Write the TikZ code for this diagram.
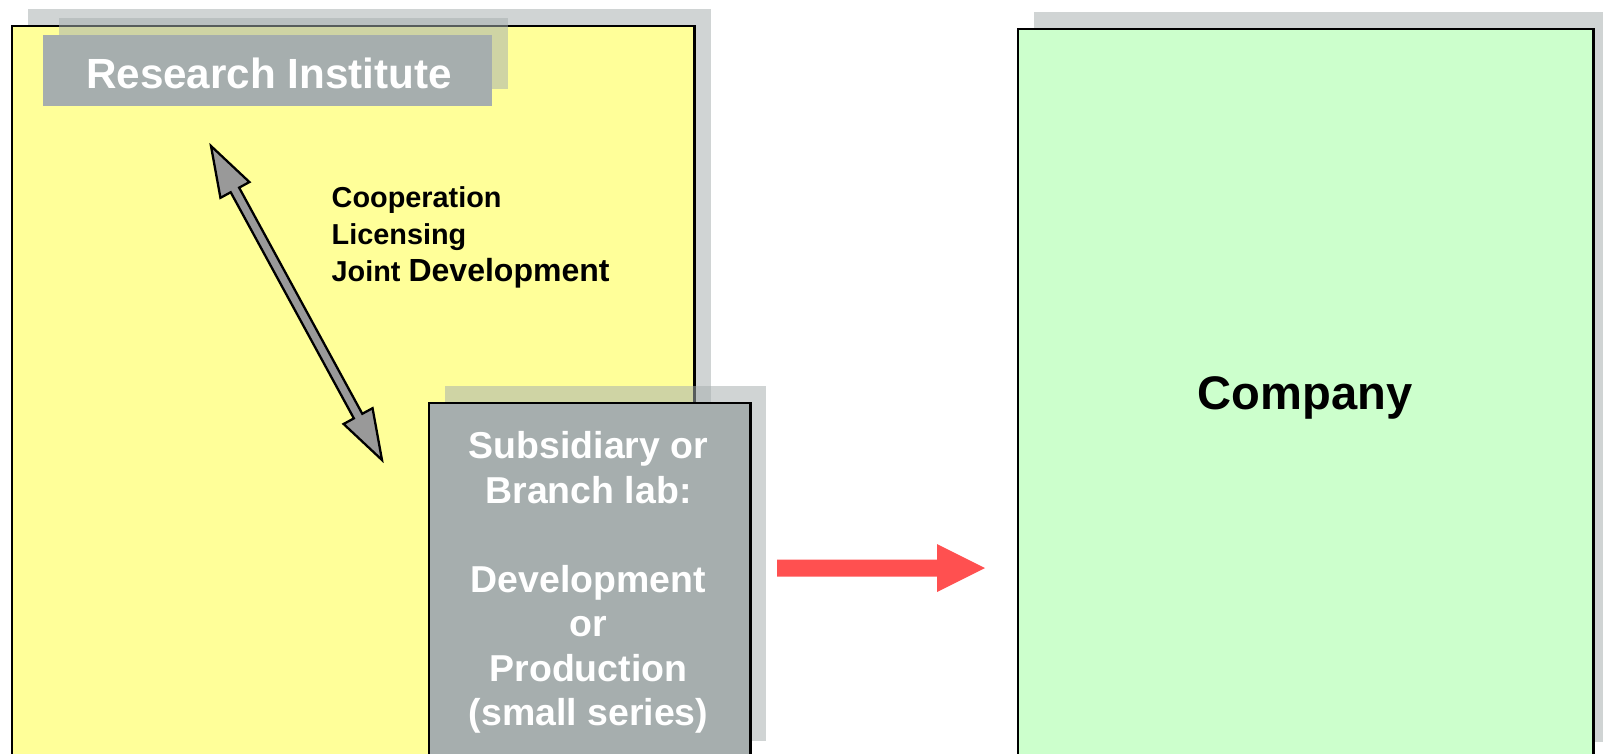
\documentclass[tikz,border=0pt]{standalone}
\usepackage{fontspec}
\setmainfont{Liberation Sans}
\usepackage{tikz}
\usetikzlibrary{calc}
\usetikzlibrary{shadows}
\usetikzlibrary{positioning}

\definecolor{instyellow}{HTML}{FFFF99}
\definecolor{compgreen}{HTML}{CCFFCC}
\definecolor{boxgray}{HTML}{A6AEAE}
\definecolor{arrowgray}{HTML}{999999}
\definecolor{arrowred}{HTML}{FF5050}

\tikzset{
  panel/.style={rectangle, draw=black, line width=0.7pt, inner sep=0pt, anchor=north west},
  backshadow/.style={drop shadow={shadow xshift=0.16cm, shadow yshift=0.17cm, fill=boxgray, opacity=0.53}},
  graybox/.style={rectangle, fill=boxgray, text=white, inner sep=0pt},
  plaintext/.style={inner sep=0pt}
}

\begin{document}
\begin{tikzpicture}[x=0.01cm, y=-0.01cm]
\clip (0,0) rectangle (1603,753);
% the three blocks
\node [panel, backshadow, fill=instyellow, minimum width=6.82cm, minimum height=7.33cm] (inst) at (11,24.5) {};
\node [panel, backshadow, fill=compgreen, minimum width=5.75cm, minimum height=7.3cm] (comp) at (1017,27.5) {};
\node [graybox, backshadow, minimum width=4.49cm, minimum height=0.71cm] (RI) at (267.5,70.5) {};
\node [plaintext, text=white, font=\bfseries\fontsize{12}{14}\selectfont] (RItext) at (269,73) {Research Institute};
\node [panel, backshadow, fill=boxgray, minimum width=3.21cm, minimum height=3.55cm] (sub) at (428,402) {};

% texts
\node [plaintext, anchor=north west, align=left, font=\bfseries\fontsize{8.2}{10.44}\selectfont] (coop) at (331,186) {Cooperation\\Licensing\\Joint {\fontsize{9.1}{10.44}\selectfont Development}};
\node [plaintext, anchor=north, align=center, text=white, font=\bfseries\fontsize{10.65}{12.66}\selectfont] (subtext) at (588.5,431) {Subsidiary or\\Branch lab:\\[12.66pt]Development\\or\\Production\\(small series)};
\node [plaintext, anchor=base, font=\bfseries\fontsize{13.4}{16}\selectfont] (comptext) at (1305,409) {Company};

% double arrow
\coordinate (tipA) at (211,146);
\coordinate (tipB) at (382,460);
\coordinate (baseA) at ($(tipA)!0.5cm!(tipB)$);
\coordinate (baseB) at ($(tipB)!0.5cm!(tipA)$);
\draw [fill=arrowgray, line width=0.65pt, line join=miter] (tipA)
  -- ($(baseA)!0.165cm!90:(tipB)$) -- ($(baseA)!0.048cm!90:(tipB)$)
  -- ($(baseB)!0.048cm!-90:(tipA)$) -- ($(baseB)!0.165cm!-90:(tipA)$)
  -- (tipB)
  -- ($(baseB)!0.165cm!90:(tipA)$) -- ($(baseB)!0.048cm!90:(tipA)$)
  -- ($(baseA)!0.048cm!-90:(tipB)$) -- ($(baseA)!0.165cm!-90:(tipB)$)
  -- cycle;

% red arrow
\coordinate (redtail) at (777,568);
\coordinate (redtip) at (985,568);
\fill [arrowred] ($(redtail)+(0,-8.5)$) -- ($(redtip)+(-48,-8.5)$) -- ($(redtip)+(-48,-24)$)
  -- (redtip) -- ($(redtip)+(-48,24)$) -- ($(redtip)+(-48,8.5)$) -- ($(redtail)+(0,8.5)$) -- cycle;
\end{tikzpicture}
\end{document}
